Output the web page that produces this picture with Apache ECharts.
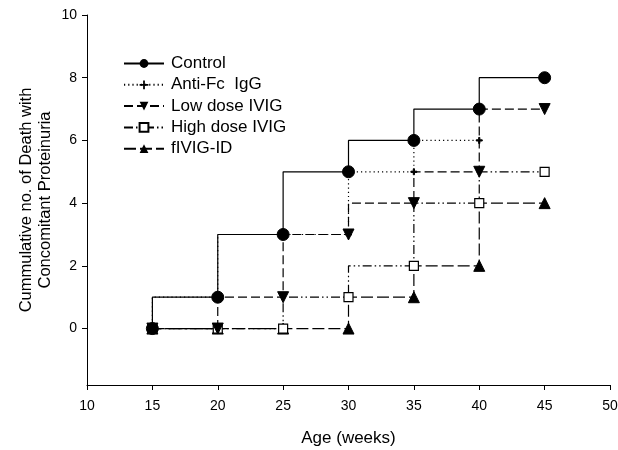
<!DOCTYPE html>
<html>
<head>
<meta charset="utf-8">
<script src="https://cdn.jsdelivr.net/npm/echarts@6/dist/echarts.min.js"></script>
<style>
html,body{margin:0;padding:0;background:#fff;}
#chart{width:618px;height:450px;}
</style>
</head>
<body>
<div id="chart"></div>
<script>
const ages = [15, 20, 25, 30, 35, 40, 45];
const control = [0, 1, 3, 5, 6, 7, 8];
const antiFc = [0, 1, 3, 3, 5, 6, null];
const lowDose = [0, 0, 1, 3, 4, 5, 7];
const highDose = [0, 0, 0, 1, 2, 4, 5];
const fivigId = [0, 0, 0, 0, 1, 2, 4];
const seriesNames = ['Control', 'Anti-Fc  IgG', 'Low dose IVIG', 'High dose IVIG', 'fIVIG-ID'];
const xTicks = [10, 15, 20, 25, 30, 35, 40, 45, 50];
const yTicks = [0, 2, 4, 6, 8, 10];

const pairs = vals => ages.map((a, i) => [a, vals[i]]).filter(p => p[1] !== null);
const font = 'Liberation Sans, Arial, sans-serif';
const plus = 'path://M4,0H6V4H10V6H6V10H4V6H0V4H4Z';

const chart = echarts.init(document.getElementById('chart'));
chart.setOption({
  animation: false,
  backgroundColor: '#fff',
  textStyle: { fontFamily: font, color: '#000' },
  grid: { left: 87, right: 8, top: 15, bottom: 65, containLabel: false, outerBoundsMode: 'none' },
  legend: {
    left: 118, top: 50, orient: 'vertical',
    itemWidth: 40, itemHeight: 11, itemGap: 4.3,
    textStyle: { fontFamily: font, fontSize: 17, color: '#000', padding: [0, 0, 0, 2] },
    data: seriesNames
  },
  xAxis: {
    type: 'value', min: 10, max: 50, interval: 5,
    name: 'Age (weeks)', nameLocation: 'middle', nameGap: 45, nameMoveOverlap: false,
    nameTextStyle: { fontFamily: font, fontSize: 17, color: '#000' },
    axisLine: { onZero: false, lineStyle: { color: '#000', width: 1 } },
    axisTick: { show: true, length: 5, lineStyle: { color: '#000' } },
    axisLabel: { fontFamily: font, fontSize: 14, color: '#000', margin: 14 },
    splitLine: { show: false }
  },
  yAxis: {
    type: 'value', min: -1.8, max: 10,
    name: 'Cummulative no. of Death with\nConcomitant Proteinuria',
    nameLocation: 'middle', nameGap: 32, nameRotate: 90, nameMoveOverlap: false,
    nameTextStyle: { fontFamily: font, fontSize: 16.5, color: '#000', lineHeight: 19 },
    axisLine: { show: true, lineStyle: { color: '#000', width: 1 } },
    axisTick: { show: true, length: 5, customValues: yTicks, lineStyle: { color: '#000' } },
    axisLabel: { fontFamily: font, fontSize: 14, color: '#000', margin: 10, customValues: yTicks },
    splitLine: { show: false }
  },
  series: [
    {
      name: seriesNames[0], type: 'line', step: 'start', data: pairs(control), z: 10,
      symbol: 'circle', symbolSize: 12,
      lineStyle: { color: '#000', width: 1.2, type: 'solid' },
      itemStyle: { color: '#000', borderColor: '#000' }
    },
    {
      name: seriesNames[1], type: 'line', step: 'start', data: pairs(antiFc), z: 3,
      symbol: plus, symbolSize: 6,
      lineStyle: { color: '#000', width: 1.2, type: [1.2, 3] },
      itemStyle: { color: '#000', borderColor: '#000' }
    },
    {
      name: seriesNames[2], type: 'line', step: 'start', data: pairs(lowDose), z: 6,
      symbol: 'triangle', symbolRotate: 180, symbolSize: 11,
      lineStyle: { color: '#000', width: 1.2, type: [9, 4] },
      itemStyle: { color: '#000', borderColor: '#000' }
    },
    {
      name: seriesNames[3], type: 'line', step: 'start', data: pairs(highDose), z: 5,
      symbol: 'rect', symbolSize: 9,
      lineStyle: { color: '#000', width: 1.2, type: [9, 3, 1.5, 3, 1.5, 3] },
      itemStyle: { color: '#fff', borderColor: '#000', borderWidth: 1.2 }
    },
    {
      name: seriesNames[4], type: 'line', step: 'start', data: pairs(fivigId), z: 4,
      symbol: 'triangle', symbolSize: 11,
      lineStyle: { color: '#000', width: 1.2, type: [12, 4] },
      itemStyle: { color: '#000', borderColor: '#000' }
    }
  ]
});
</script>
</body>
</html>
